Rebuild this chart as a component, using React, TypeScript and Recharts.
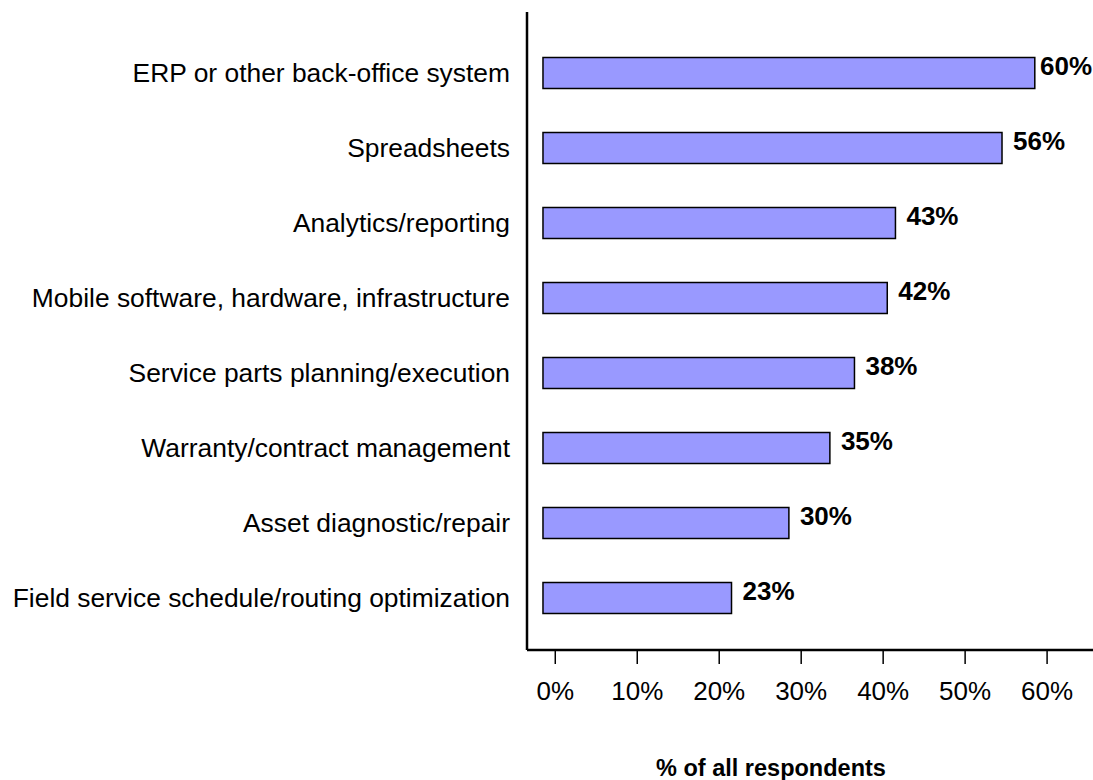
import React from "react";
import { BarChart, Bar, XAxis, YAxis, LabelList } from "recharts";

const categories = [
  "ERP or other back-office system",
  "Spreadsheets",
  "Analytics/reporting",
  "Mobile software, hardware, infrastructure",
  "Service parts planning/execution",
  "Warranty/contract management",
  "Asset diagnostic/repair",
  "Field service schedule/routing optimization",
];
const values = [60, 56, 43, 42, 38, 35, 30, 23];
const xTicks = [0, 10, 20, 30, 40, 50, 60];

// bars in the original start slightly left of the 0% tick
const BAR_START = -1.5;

const data = categories.map((name, i) => ({
  name,
  value: values[i],
  range: [BAR_START, BAR_START + values[i]],
}));

const FONT = "'Liberation Sans', Arial, sans-serif";

const ValueLabel = (props: any) => {
  const { x, y, width, height, index } = props;
  const end = x + width;
  const lx = Math.min(end + 11, 1040);
  return (
    <text
      x={lx}
      y={y + height / 2 - 7}
      dominantBaseline="central"
      fontFamily={FONT}
      fontSize={26}
      fontWeight="bold"
      fill="#000"
    >
      {`${values[index]}%`}
    </text>
  );
};

export default function App() {
  return (
    <div style={{ position: "absolute", left: 0, top: 0, background: "#fff" }}>
      <BarChart
        width={1093}
        height={780}
        data={data}
        layout="vertical"
        margin={{ top: 12, right: 0, bottom: 0, left: 0 }}
      >
        <XAxis
          type="number"
          domain={[-3.45, 65.6]}
          ticks={xTicks}
          tickFormatter={(v) => `${v}%`}
          allowDataOverflow
          height={130}
          axisLine={{ stroke: "#000", strokeWidth: 2.5 }}
          tickLine={{ stroke: "#000", strokeWidth: 1.5 }}
          tickSize={14}
          tickMargin={18}
          tick={{ fill: "#000", fontSize: 26, fontFamily: FONT }}
          label={{
            value: "% of all respondents",
            position: "insideBottom",
            dx: -39,
            offset: 4,
            style: { fill: "#000", fontSize: 23.5, fontWeight: "bold", fontFamily: FONT },
          }}
        />
        <YAxis
          type="category"
          dataKey="name"
          width={527}
          interval={0}
          padding={{ top: 23.5, bottom: 14.5 }}
          axisLine={{ stroke: "#000", strokeWidth: 2.5 }}
          tickLine={false}
          tickMargin={11}
          tick={{ fill: "#000", fontSize: 26.4, fontFamily: FONT }}
        />
        <Bar
          dataKey="range"
          barSize={31}
          fill="#9999FF"
          stroke="#000"
          strokeWidth={1.5}
          isAnimationActive={false}
        >
          <LabelList dataKey="value" content={<ValueLabel />} />
        </Bar>
      </BarChart>
    </div>
  );
}
